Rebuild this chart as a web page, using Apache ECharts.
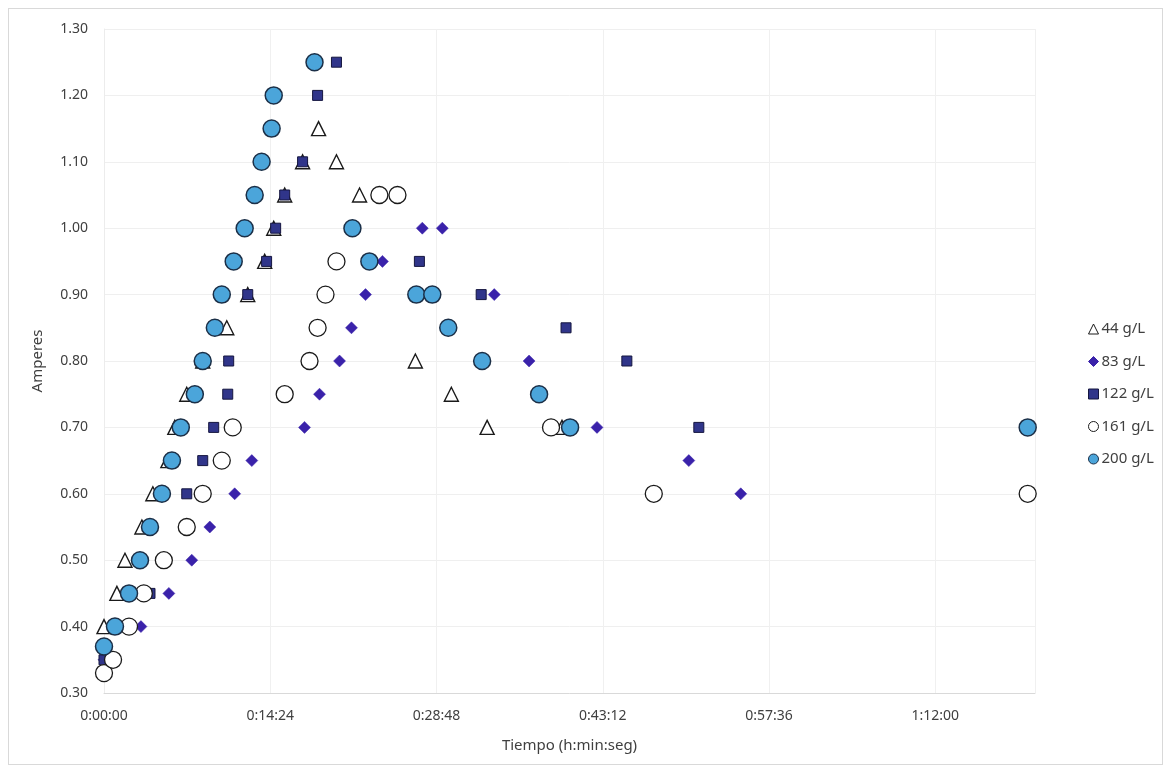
<!DOCTYPE html>
<html>
<head>
<meta charset="utf-8">
<script src="https://cdn.jsdelivr.net/npm/echarts@6/dist/echarts.min.js"></script>
<style>
  html, body { margin: 0; padding: 0; background: #fff; }
  #frame { position: absolute; left: 8px; top: 8px; width: 1155px; height: 757px;
           border: 1px solid #d9d9d9; box-sizing: border-box; }
  #chart { position: absolute; left: 0; top: 0; width: 1171px; height: 773px; }
</style>
</head>
<body>
<div id="frame"></div>
<div id="chart"></div>
<script>
// Elapsed time in seconds and measured current (A) for each concentration
const seriesNames = ['44 g/L', '83 g/L', '122 g/L', '161 g/L', '200 g/L'];

const time44 = [0, 67, 109, 197, 254, 332, 368, 430, 513, 638, 747, 835, 882, 939, 1032, 1115, 1208, 1328, 1618, 1805, 1991, 2380];
const amps44 = [0.40, 0.45, 0.50, 0.55, 0.60, 0.65, 0.70, 0.75, 0.80, 0.85, 0.90, 0.95, 1.00, 1.05, 1.10, 1.15, 1.10, 1.05, 0.80, 0.75, 0.70, 0.70];

const time83 = [0, 192, 337, 456, 550, 679, 768, 1042, 1120, 1224, 1286, 1359, 1447, 1654, 1758, 2028, 2209, 2562, 3039, 3309];
const amps83 = [0.35, 0.40, 0.45, 0.50, 0.55, 0.60, 0.65, 0.70, 0.75, 0.80, 0.85, 0.90, 0.95, 1.00, 1.00, 0.90, 0.80, 0.70, 0.65, 0.60];

const time122 = [0, 239, 430, 513, 570, 643, 648, 747, 845, 892, 939, 1032, 1110, 1208, 1639, 1960, 2401, 2717, 3091];
const amps122 = [0.35, 0.45, 0.60, 0.65, 0.70, 0.75, 0.80, 0.90, 0.95, 1.00, 1.05, 1.10, 1.20, 1.25, 0.95, 0.90, 0.85, 0.80, 0.70];

const time161 = [0, 47, 130, 207, 311, 430, 513, 612, 669, 939, 1068, 1110, 1151, 1208, 1431, 1525, 2323, 2857, 4800];
const amps161 = [0.33, 0.35, 0.40, 0.45, 0.50, 0.55, 0.60, 0.65, 0.70, 0.75, 0.80, 0.85, 0.90, 0.95, 1.05, 1.05, 0.70, 0.60, 0.60];

const time200 = [0, 57, 130, 187, 239, 301, 353, 399, 472, 513, 576, 612, 674, 731, 783, 819, 871, 882, 1094, 1291, 1379, 1623, 1706, 1789, 1965, 2261, 2422, 4800];
const amps200 = [0.37, 0.40, 0.45, 0.50, 0.55, 0.60, 0.65, 0.70, 0.75, 0.80, 0.85, 0.90, 0.95, 1.00, 1.05, 1.10, 1.15, 1.20, 1.25, 1.00, 0.95, 0.90, 0.90, 0.85, 0.80, 0.75, 0.70, 0.70];

const zip = (t, a) => t.map((v, i) => [v, a[i]]);

function hms(sec) {
  const h = Math.floor(sec / 3600);
  const m = Math.floor((sec % 3600) / 60);
  const s = Math.round(sec % 60);
  return h + ':' + String(m).padStart(2, '0') + ':' + String(s).padStart(2, '0');
}

const FONT = '"Noto Sans", "Liberation Sans", sans-serif';

const styles = [
  { symbol: 'triangle', size: 14, color: '#ffffff', border: '#1a1a1a', bw: 1.4 },
  { symbol: 'diamond', size: 12, color: '#3a22aa', border: '#3a22aa', bw: 0.5 },
  { symbol: 'rect', size: 10, color: '#30358a', border: '#15163f', bw: 1 },
  { symbol: 'circle', size: 17, color: '#ffffff', border: '#1a1a1a', bw: 1.3 },
  { symbol: 'circle', size: 17, color: '#4ba5da', border: '#1b2f47', bw: 1.5 }
];
const dataSets = [zip(time44, amps44), zip(time83, amps83), zip(time122, amps122), zip(time161, amps161), zip(time200, amps200)];

const chart = echarts.init(document.getElementById('chart'), null, { renderer: 'canvas' });
chart.setOption({
  animation: false,
  backgroundColor: 'transparent',
  textStyle: { fontFamily: FONT },
  grid: { left: 104, right: 136, top: 29, bottom: 80 },
  legend: {
    orient: 'vertical',
    left: 1083,
    top: 316,
    itemWidth: 10,
    itemHeight: 10,
    itemGap: 16.5,
    textStyle: { fontFamily: FONT, fontSize: 15, lineHeight: 16, color: '#404040', padding: [0, 0, 0, -2] },
    data: seriesNames.map((n, i) => ({
      name: n,
      icon: styles[i].symbol,
      itemStyle: { color: styles[i].color, borderColor: styles[i].border, borderWidth: 1 }
    }))
  },
  xAxis: {
    type: 'value',
    min: 0,
    max: 4838,
    interval: 864,
    name: 'Tiempo (h:min:seg)',
    nameLocation: 'middle',
    nameGap: 45,
    nameTextStyle: { fontFamily: FONT, fontSize: 15, color: '#404040' },
    axisLine: { show: true, lineStyle: { color: '#d9d9d9' } },
    axisTick: { show: false },
    splitLine: { show: true, lineStyle: { color: '#f0f0f0' } },
    axisLabel: {
      showMaxLabel: false,
      margin: 16,
      fontFamily: FONT, fontSize: 14, color: '#404040',
      formatter: v => hms(v)
    }
  },
  yAxis: {
    type: 'value',
    min: 0.3,
    max: 1.3,
    interval: 0.1,
    name: 'Amperes',
    nameLocation: 'middle',
    nameGap: 59,
    nameTextStyle: { fontFamily: FONT, fontSize: 15, color: '#404040' },
    axisLine: { show: true, lineStyle: { color: '#ececec' } },
    axisTick: { show: false },
    splitLine: { show: true, lineStyle: { color: '#efefef' } },
    axisLabel: {
      margin: 16,
      fontFamily: FONT, fontSize: 14, color: '#404040',
      formatter: v => v.toFixed(2)
    }
  },
  series: seriesNames.map((n, i) => ({
    name: n,
    type: 'scatter',
    symbol: styles[i].symbol,
    symbolSize: styles[i].size,
    itemStyle: { color: styles[i].color, borderColor: styles[i].border, borderWidth: styles[i].bw, opacity: 1 },
    emphasis: { disabled: true },
    data: dataSets[i]
  }))
});
</script>
</body>
</html>
